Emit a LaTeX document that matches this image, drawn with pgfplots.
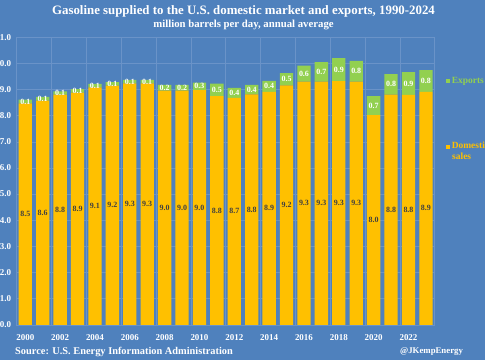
\documentclass[border=0pt]{standalone}
\usepackage{pgfplots}
\pgfplotsset{compat=1.18}
\usepackage{pgfplotstable}
\usepackage{fontspec}
\setmainfont{Liberation Serif}
\definecolor{bg}{HTML}{4F81BD}
\definecolor{gridc}{HTML}{6A93C8}
\definecolor{domc}{HTML}{FFC000}
\definecolor{expc}{HTML}{92D050}
\definecolor{lab}{HTML}{404040}

\pgfplotstableread{
idx dom exp dl el
0 8.47 0.14 8.5 0.1
1 8.57 0.15 8.6 0.1
2 8.80 0.13 8.8 0.1
3 8.88 0.13 8.9 0.1
4 9.08 0.13 9.1 0.1
5 9.15 0.13 9.2 0.1
6 9.23 0.14 9.3 0.1
7 9.23 0.14 9.3 0.1
8 8.96 0.22 9.0 0.2
9 8.96 0.22 9.0 0.2
10 8.98 0.28 9.0 0.3
11 8.75 0.47 8.8 0.5
12 8.68 0.38 8.7 0.4
13 8.81 0.37 8.8 0.4
14 8.91 0.42 8.9 0.4
15 9.16 0.47 9.2 0.5
16 9.30 0.61 9.3 0.6
17 9.30 0.75 9.3 0.7
18 9.32 0.88 9.3 0.9
19 9.30 0.79 9.3 0.8
20 8.02 0.73 8.0 0.7
21 8.80 0.79 8.8 0.8
22 8.79 0.87 8.8 0.9
23 8.91 0.83 8.9 0.8
}\data

\pgfplotsset{common/.style={
  at={(16.6bp,35.2bp)}, anchor=south west, scale only axis,
  width=418bp, height=287.6bp,
  xmin=-0.5, xmax=23.5, ymin=0, ymax=11}}

\begin{document}
\begin{tikzpicture}[x=1bp,y=1bp]
\fill[bg] (0,0) rectangle (485,360);
\begin{axis}[common,
  ybar stacked, bar width=13.3bp,
  xtick={0,2,...,22},
  xticklabels={2000,2002,2004,2006,2008,2010,2012,2014,2016,2018,2020,2022},
  minor xtick={-0.5,1.5,...,23.5},
  xminorgrids, ymajorgrids,
  ytick={0,1,...,11},
  major tick length=0pt, minor tick length=0pt,
  axis line style={gridc, line width=0.6pt},
  major grid style={gridc, line width=0.5pt},
  minor grid style={gridc, line width=0.5pt},
  /pgf/number format/assume math mode=true,
  yticklabel style={/pgf/number format/fixed, /pgf/number format/fixed zerofill, /pgf/number format/precision=1, xshift=-2bp},
  ticklabel style={font=\bfseries\fontsize{9}{10}\selectfont, text=white},
  xticklabel style={yshift=-6bp},
]
\addplot[fill=domc, draw=none] table[x=idx, y=dom]{\data};
\addplot[fill=expc, draw=none] table[x=idx, y=exp]{\data};
\end{axis}
\begin{axis}[common, hide axis]
\addplot[only marks, mark=none, nodes near coords, point meta=explicit symbolic,
  every node near coord/.append style={anchor=center,
     font=\bfseries\fontsize{8}{9}\selectfont, text=lab, inner sep=0pt}]
  table[x=idx, y expr=\thisrow{dom}/2, meta=dl]{\data};
\addplot[only marks, mark=none, nodes near coords, point meta=explicit symbolic,
  every node near coord/.append style={anchor=center,
     font=\bfseries\fontsize{8}{9}\selectfont, text=white, inner sep=0pt}]
  table[x=idx, y expr=\thisrow{dom}+\thisrow{exp}/2, meta=el]{\data};
\end{axis}
\node[text=white, font=\bfseries\fontsize{12.9}{14}\selectfont] at (243.5,349) {Gasoline supplied to the U.S. domestic market and exports, 1990-2024};
\node[text=white, font=\bfseries\fontsize{10.8}{12}\selectfont] at (243.5,335.5) {million barrels per day, annual average};
\node[text=white, font=\bfseries\fontsize{10.4}{11}\selectfont, anchor=west, inner sep=0pt] at (15,8) {Source: U.S. Energy Information Administration};
\node[text=white, font=\bfseries\fontsize{8.8}{10}\selectfont, anchor=west, inner sep=0pt] at (400,8) {@JKempEnergy};
\node[text=expc, font=\bfseries\fontsize{9.5}{10}\selectfont, anchor=west, inner sep=0pt] at (446,279) {\rule{4bp}{4bp}\,Exports};
\node[text=domc, font=\bfseries\fontsize{9.5}{11}\selectfont, anchor=north west, inner sep=0pt, align=left] at (446,218) {\rule{4bp}{4bp}\,Domestic\\\hspace*{6bp}sales};
\pgfresetboundingbox
\useasboundingbox (0,0) rectangle (485,360);
\end{tikzpicture}
\end{document}
